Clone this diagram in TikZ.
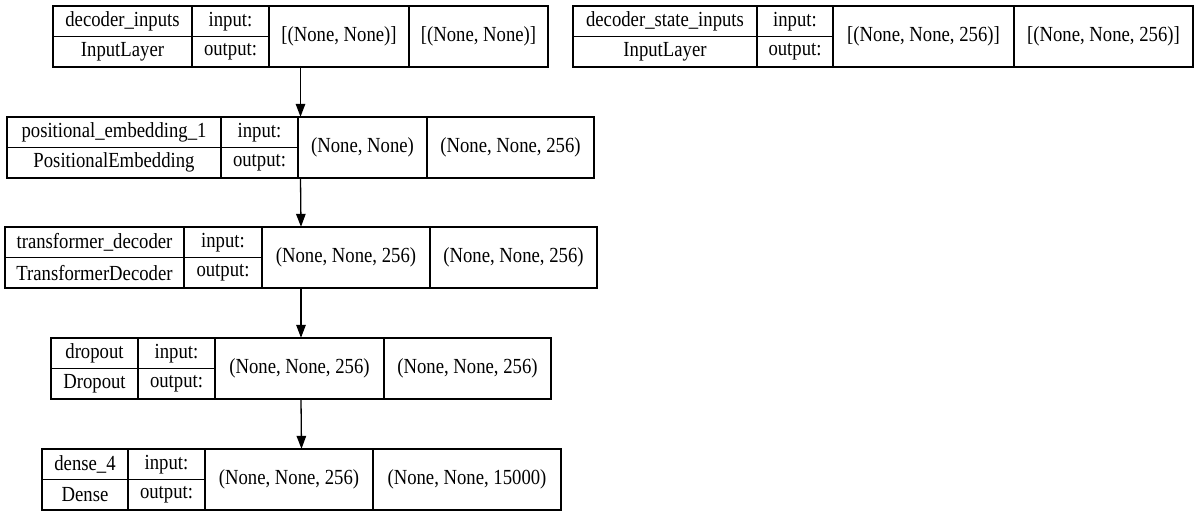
\documentclass[tikz,border=0pt]{standalone}
\usepackage{fontspec}
\setmainfont{Liberation Serif}
\usetikzlibrary{arrows.meta,fit}

% one drawn table cell: name, left x, right x, top y, bottom y, text
\newcommand\kcell[6]{%
  \node[kcell, minimum width={(#3-#2)*1pt}, minimum height={(#5-#4)*1pt}]
    (#1) at ({(#2+#3)/2},{(#4+#5)/2}) {\scalebox{1}[1.15]{#6}};}

% one layer record: prefix, x0, x1, x2, x3, x4, top y, layer name, class
\newcommand\klayer[9]{%
  \pgfmathsetmacro\kmid{#7+30.5}%
  \pgfmathsetmacro\kbot{#7+61}%
  \kcell{#1-name}{#2}{#3}{#7}{\kmid}{#8}
  \kcell{#1-class}{#2}{#3}{\kmid}{\kbot}{#9}
  \kcell{#1-inlbl}{#3}{#4}{#7}{\kmid}{input:}
  \kcell{#1-outlbl}{#3}{#4}{\kmid}{\kbot}{output:}}

% the two shape cells: prefix, x2, x3, x4, top y, input shape, output shape
\newcommand\kshapes[7]{%
  \pgfmathsetmacro\kbot{#5+61}%
  \kcell{#1-in}{#2}{#3}{#5}{\kbot}{#6}
  \kcell{#1-out}{#3}{#4}{#5}{\kbot}{#7}
  \node[fit=(#1-name)(#1-out), inner sep=0pt] (#1) {};}

\tikzset{
  kcell/.style={draw=black, line width=1.3pt, inner sep=0pt, outer sep=0pt,
    anchor=center, font=\fontsize{18.7}{22}\selectfont},
  flow/.style={draw=black, line width=1.3pt,
    -{Triangle[length=13pt,width=9.5pt]}},
}

\begin{document}
\begin{tikzpicture}[x=1pt,y=-1pt]
\useasboundingbox[fill=white] (0,0) rectangle (1199,516);

\klayer{dec}{53}{192}{269}{409}{548}{6}{decoder\_inputs}{InputLayer}
\kshapes{dec}{269}{409}{548}{6}{[(None, None)]}{[(None, None)]}

\klayer{state}{573}{757}{833}{1014}{1193}{6}{decoder\_state\_inputs}{InputLayer}
\kshapes{state}{833}{1014}{1193}{6}{[(None, None, 256)]}{[(None, None, 256)]}

\klayer{pos}{7}{221}{298}{427}{594}{117}{positional\_embedding\_1}{PositionalEmbedding}
\kshapes{pos}{298}{427}{594}{117}{(None, None)}{(None, None, 256)}

\klayer{trf}{5}{184}{262}{430}{597}{227}{transformer\_decoder}{TransformerDecoder}
\kshapes{trf}{262}{430}{597}{227}{(None, None, 256)}{(None, None, 256)}

\klayer{drop}{51}{138}{215}{384}{551}{338}{dropout}{Dropout}
\kshapes{drop}{215}{384}{551}{338}{(None, None, 256)}{(None, None, 256)}

\klayer{dense}{42}{128}{205}{373}{561}{449}{dense\_4}{Dense}
\kshapes{dense}{205}{373}{561}{449}{(None, None, 256)}{(None, None, 15000)}

\draw[flow] (dec.south) -- (pos.north);
\draw[flow] (pos.south) -- (trf.north);
\draw[flow] (trf.south) -- (drop.north);
\draw[flow] (drop.south) -- (dense.north);
\end{tikzpicture}
\end{document}
